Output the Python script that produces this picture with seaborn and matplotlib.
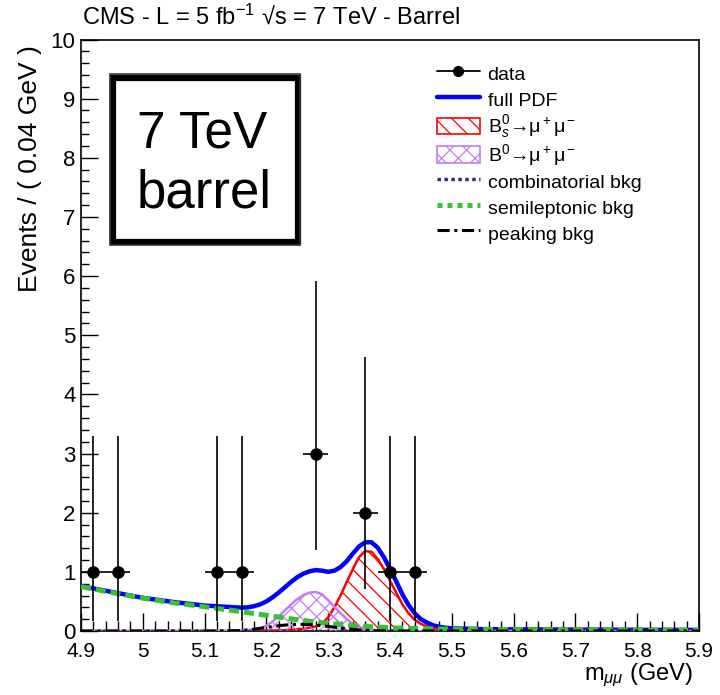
import numpy as np
import pandas as pd
import matplotlib
matplotlib.use("Agg")
import matplotlib.pyplot as plt
import seaborn as sns
from matplotlib.lines import Line2D
from matplotlib.patches import Patch, Rectangle
from matplotlib.legend_handler import HandlerPatch
from matplotlib.ticker import MultipleLocator

# ---------------- data ----------------
data_x = [4.92, 4.96, 5.12, 5.16, 5.28, 5.36, 5.40, 5.44]
data_y = [1, 1, 1, 1, 3, 2, 1, 1]
data_err_lo = [0.83, 0.83, 0.83, 0.83, 1.63, 1.29, 0.83, 0.83]
data_err_hi = [2.30, 2.30, 2.30, 2.30, 2.92, 2.64, 2.30, 2.30]
data_xerr = [0.02, 0.02, 0.02, 0.02, 0.02, 0.02, 0.02, 0.02]

x_curve = [4.90, 4.95, 5.00, 5.05, 5.10, 5.15,
           5.16, 5.17, 5.18, 5.19, 5.20, 5.21, 5.22, 5.23, 5.24, 5.25,
           5.26, 5.27, 5.28, 5.29, 5.30, 5.31, 5.32, 5.33, 5.34, 5.35,
           5.36, 5.37, 5.38, 5.39, 5.40, 5.41, 5.42, 5.43, 5.44, 5.45,
           5.46, 5.47, 5.48, 5.49, 5.50,
           5.55, 5.60, 5.70, 5.80, 5.90]

full_pdf = [0.76, 0.66, 0.56, 0.49, 0.43, 0.40,
            0.395, 0.40, 0.42, 0.45, 0.50, 0.57, 0.65, 0.74, 0.83, 0.91,
            0.97, 1.01, 1.03, 1.02, 1.00, 1.02, 1.08, 1.18, 1.31, 1.43,
            1.50, 1.50, 1.41, 1.25, 1.05, 0.84, 0.62, 0.44, 0.30, 0.20,
            0.14, 0.095, 0.07, 0.055, 0.045,
            0.032, 0.028, 0.024, 0.020, 0.018]

bs_sig = [0, 0, 0, 0, 0, 0,
          0, 0, 0.002, 0.004, 0.006, 0.008, 0.011, 0.015, 0.02, 0.028,
          0.04, 0.055, 0.08, 0.13, 0.23, 0.40, 0.60, 0.83, 1.05, 1.25,
          1.35, 1.34, 1.22, 1.05, 0.85, 0.65, 0.45, 0.30, 0.19, 0.12,
          0.075, 0.045, 0.028, 0.016, 0.01,
          0.001, 0, 0, 0, 0]

bd_sig = [0, 0, 0, 0, 0, 0.005,
          0.008, 0.015, 0.03, 0.05, 0.09, 0.16, 0.25, 0.35, 0.45, 0.54,
          0.61, 0.65, 0.66, 0.62, 0.52, 0.41, 0.30, 0.20, 0.12, 0.07,
          0.04, 0.02, 0.01, 0.005, 0.002, 0, 0, 0, 0, 0,
          0, 0, 0, 0, 0,
          0, 0, 0, 0, 0]

semilep = [0.75, 0.65, 0.555, 0.475, 0.41, 0.34,
           0.325, 0.31, 0.295, 0.28, 0.265, 0.25, 0.235, 0.22, 0.205, 0.19,
           0.178, 0.165, 0.153, 0.14, 0.13, 0.12, 0.11, 0.10, 0.092, 0.085,
           0.078, 0.072, 0.066, 0.06, 0.055, 0.051, 0.048, 0.045, 0.042, 0.04,
           0.038, 0.036, 0.034, 0.032, 0.031,
           0.027, 0.024, 0.020, 0.016, 0.013]

peaking = [0, 0, 0, 0, 0, 0.005,
           0.01, 0.02, 0.03, 0.045, 0.06, 0.075, 0.09, 0.10, 0.108, 0.112,
           0.112, 0.108, 0.10, 0.09, 0.077, 0.063, 0.05, 0.038, 0.027, 0.018,
           0.012, 0.007, 0.004, 0.002, 0.001, 0, 0, 0, 0, 0,
           0, 0, 0, 0, 0,
           0, 0, 0, 0, 0]

comb_x = [4.90, 5.90]
comb_y = [0.008, 0.008]

x_ticks = [4.9, 5.0, 5.1, 5.2, 5.3, 5.4, 5.5, 5.6, 5.7, 5.8, 5.9]
x_ticklabels = ["4.9", "5", "5.1", "5.2", "5.3", "5.4", "5.5", "5.6", "5.7", "5.8", "5.9"]
y_ticks = [0, 1, 2, 3, 4, 5, 6, 7, 8, 9, 10]

legend_labels = ['data', 'full PDF', 'B$^0_s$→μ$^+$μ$^-$', 'B$^0$→μ$^+$μ$^-$',
                 'combinatorial bkg', 'semileptonic bkg', 'peaking bkg']

# ---------------- style ----------------
sns.set_theme(style="ticks")
plt.rcParams['font.family'] = ['Liberation Sans', 'DejaVu Sans']
plt.rcParams['mathtext.fontset'] = 'custom'
plt.rcParams['mathtext.rm'] = 'Liberation Sans'
plt.rcParams['mathtext.it'] = 'Liberation Sans:italic'
plt.rcParams['mathtext.bf'] = 'Liberation Sans:bold'
plt.rcParams['hatch.linewidth'] = 0.9
for k in ['text.color', 'axes.labelcolor', 'xtick.color', 'ytick.color',
          'axes.edgecolor']:
    plt.rcParams[k] = 'black'

RED = '#ff0000'
VIOLET = '#c47cf5'
BLUE = '#0000ff'
GREEN = '#36c236'
NAVY = '#2e2e70'

fig = plt.figure(figsize=(7.2, 6.95), dpi=100)
L, R, B, T = 81/720, 699/720, 1 - 631/695, 1 - 39.5/695
ax = fig.add_axes([L, B, R - L, T - B])

df = pd.DataFrame({'x': x_curve, 'full': full_pdf, 'bs': bs_sig, 'bd': bd_sig,
                   'semi': semilep, 'peak': peaking})

# full PDF
sns.lineplot(data=df, x='x', y='full', ax=ax, color=BLUE, lw=3.2, zorder=3)
# Bs signal
ax.fill_between(df['x'], 0, df['bs'], facecolor='none', edgecolor=RED,
                hatch='\\\\', linewidth=0, zorder=4)
sns.lineplot(data=df, x='x', y='bs', ax=ax, color=RED, lw=1.8, zorder=4)
# B0 signal
ax.fill_between(df['x'], 0, df['bd'], facecolor='none', edgecolor=VIOLET,
                hatch='xx', linewidth=0, zorder=4)
sns.lineplot(data=df, x='x', y='bd', ax=ax, color=VIOLET, lw=1.8, zorder=4)
# combinatorial
sns.lineplot(x=comb_x, y=comb_y, ax=ax, color=NAVY, lw=2.5,
             linestyle=(0, (1, 1)), zorder=5)
# semileptonic
sns.lineplot(data=df, x='x', y='semi', ax=ax, color=GREEN, lw=3.6,
             linestyle=(0, (2, 1)), zorder=5)
# peaking
sns.lineplot(data=df, x='x', y='peak', ax=ax, color='black', lw=2.2,
             linestyle=(0, (4, 1.5, 1, 1.5)), zorder=5)

# data
ax.errorbar(data_x, data_y, xerr=data_xerr, yerr=[data_err_lo, data_err_hi],
            fmt='o', color='black', ms=8, lw=1.2, capsize=0, zorder=6)

ax.set_xlim(4.9, 5.9)
ax.set_ylim(0, 10)
ax.set_xticks(x_ticks)
ax.set_xticklabels(x_ticklabels)
ax.set_yticks(y_ticks)
ax.xaxis.set_minor_locator(MultipleLocator(0.02))
ax.yaxis.set_minor_locator(MultipleLocator(0.2))
ax.tick_params(axis='x', which='major', direction='in', length=13, width=1,
               labelsize=15, pad=8)
ax.tick_params(axis='x', which='minor', direction='in', length=7, width=1)
ax.tick_params(axis='y', which='major', direction='in', length=12, width=1,
               labelsize=16, pad=4)
ax.tick_params(axis='y', which='minor', direction='in', length=6, width=1)
ax.tick_params(top=False, right=False, which='both')
for s in ax.spines.values():
    s.set_visible(True)
    s.set_color('black')
    s.set_linewidth(1.2)
ax.set_xlabel('')
ax.set_ylabel('')

fig.text(30/720, 1 - 45/695, 'Events / ( 0.04 GeV )', rotation=90,
         ha='center', va='top', fontsize=19)
fig.text(693/720, 1 - 662/695, r'm$_{\mu\mu}$ (GeV)', ha='right',
         va='top', fontsize=17)
fig.text(82/720, 1 - 16/695,
         'CMS - L = 5 fb$^{-1}$ √s = 7 TeV - Barrel',
         ha='left', va='center', fontsize=17)

# annotation box
fig.patches.append(Rectangle((113/720, 1 - 242/695), (298 - 113)/720,
                             (242 - 78)/695, transform=fig.transFigure,
                             fill=False, lw=4.5, ec='black'))
fig.patches.append(Rectangle((110/720, 1 - 245/695), (300 - 110)/720,
                             (245 - 74)/695, transform=fig.transFigure,
                             fill=False, lw=1.2, ec='#333333'))
fig.text(137/720, 1 - 148/695, '7 TeV', ha='left', va='baseline', fontsize=37)
fig.text(137/720, 1 - 208/695, 'barrel', ha='left', va='baseline', fontsize=38)


# legend
def small_rect(legend, orig_handle, xdescent, ydescent, width, height, fontsize):
    h = 0.85 * fontsize
    return Rectangle((-xdescent, -ydescent + (height - h) / 2), width, h)


handles = [
    Line2D([], [], color='black', marker='o', ms=7, lw=1.3),
    Line2D([], [], color=BLUE, lw=3.2),
    Patch(facecolor='white', edgecolor=RED, hatch='\\\\', lw=1.2),
    Patch(facecolor='white', edgecolor=VIOLET, hatch='xx', lw=1.2),
    Line2D([], [], color=NAVY, lw=2.5, linestyle=(0, (1, 1))),
    Line2D([], [], color=GREEN, lw=3.6, linestyle=(0, (1, 1))),
    Line2D([], [], color='black', lw=2.2, linestyle=(0, (4, 1.5, 1, 1.5))),
]
fig.legend(handles, legend_labels, loc='upper left',
           bbox_to_anchor=(437/720, 1 - 62/695), frameon=False, fontsize=14,
           borderpad=0, borderaxespad=0, labelspacing=0.1, handlelength=2.2,
           handletextpad=0.4, handleheight=1.5,
           handler_map={Patch: HandlerPatch(patch_func=small_rect)})

fig.savefig('out.png', dpi=100, facecolor='white')
